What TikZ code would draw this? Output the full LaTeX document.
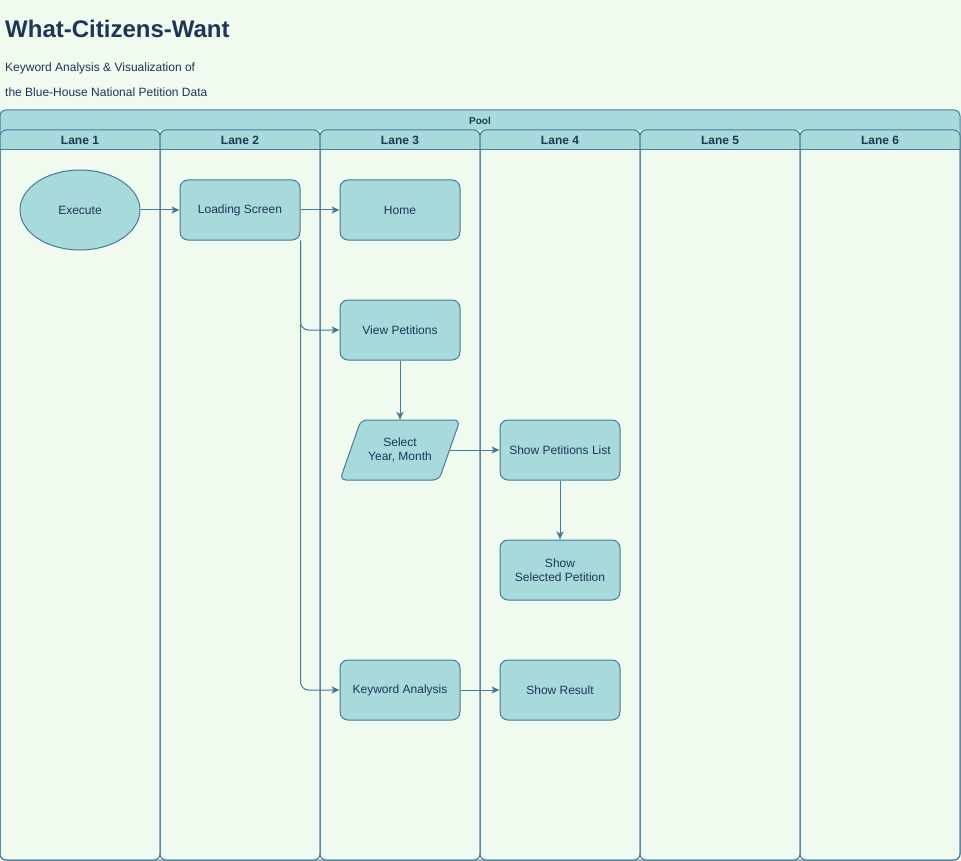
\documentclass[tikz,border=0pt]{standalone}
\usepackage{fontspec}
\setmainfont{Liberation Sans}
\usetikzlibrary{shapes.geometric,arrows.meta,calc}
\definecolor{bgc}{HTML}{F1FAEE}
\definecolor{fillc}{HTML}{A8DADC}
\definecolor{linec}{HTML}{457B9D}
\definecolor{textc}{HTML}{1D3557}
\begin{document}
\begin{tikzpicture}[x=1pt,y=-1pt,
  every node/.style={text=textc, font=\fontsize{12}{14}\selectfont},
  box/.style={draw=linec, fill=fillc, line width=1pt, rounded corners=8pt, minimum width=120pt, minimum height=60pt, align=center, inner sep=2pt},
  shape ell/.style={ellipse, draw=linec, fill=fillc, line width=1pt, minimum width=120pt, minimum height=80pt, inner sep=0pt},
  conn/.style={draw=linec, line width=1pt, -{Stealth[length=8pt,width=7pt,inset=2pt]}, rounded corners=8pt},
  frame/.style={draw=linec, line width=1pt},
  headtext/.style={font=\fontsize{12}{14}\selectfont\bfseries, text=textc}]
\fill[bgc] (0,0) rectangle (961,861);
\useasboundingbox (0,0) rectangle (961,861);
% title
\node[anchor=base west, inner sep=0pt, font=\fontsize{24}{28}\selectfont\bfseries] (title) at (5,38) {What-Citizens-Want};
\node[anchor=base west, inner sep=0pt] (sub1) at (5,71.5) {Keyword Analysis \& Visualization of};
\node[anchor=base west, inner sep=0pt] (sub2) at (5,96.5) {the Blue-House National Petition Data};
% pool
\begin{scope}
  \clip[rounded corners=6pt] (0,110) rectangle (960,860);
  \fill[fillc] (0,110) rectangle (960,130);
\end{scope}
\draw[frame, rounded corners=6pt] (0,110) rectangle (960,860);
\node[font=\fontsize{10}{12}\selectfont\bfseries] (pool) at (480,120.5) {Pool};
% lanes
\foreach \i in {0,...,5}{
  \begin{scope}
    \clip[rounded corners=6pt] ({160*\i},130) rectangle ({160*\i+160},860);
    \fill[fillc] ({160*\i},130) rectangle ({160*\i+160},150);
  \end{scope}
  \draw[frame, rounded corners=6pt] ({160*\i},130) rectangle ({160*\i+160},860);
  \draw[frame] ({160*\i},150) -- ({160*\i+160},150);
  \pgfmathtruncatemacro\n{\i+1}
  \node[headtext] (lanehd\n) at ({160*\i+80},140.5) {Lane \n};
}
% nodes
\node[shape ell] (exec) at (80,210) {Execute};
\node[box] (load) at (240,210) {Loading Screen};
\node[box] (home) at (400,210) {Home};
\node[box] (vp) at (400,330) {View Petitions};
\coordinate (selc) at (400,450);
\filldraw[draw=linec, fill=fillc, line width=1pt, rounded corners=6pt]
  ($(selc)+(-60,30)$) -- ($(selc)+(-39,-30)$) -- ($(selc)+(60,-30)$) -- ($(selc)+(39,30)$) -- cycle;
\node[minimum width=100pt, minimum height=60pt, align=center, inner sep=0pt] (sel) at (selc) {Select\\Year, Month};
\node[box] (spl) at (560,450) {Show Petitions List};
\node[box] (ssp) at (560,570) {Show\\Selected Petition};
\node[box] (ka) at (400,690) {Keyword Analysis};
\node[box] (sr) at (560,690) {Show Result};
% connectors
\draw[conn] (exec) -- (load);
\draw[conn] (load) -- (home);
\draw[conn] (load.south east) |- (vp.west);
\draw[conn] (load.south east) |- (ka.west);
\draw[conn] (vp) -- (sel);
\draw[conn] (sel.east) -- (spl.west);
\draw[conn] (spl) -- (ssp);
\draw[conn] (ka) -- (sr);
\end{tikzpicture}
\end{document}
